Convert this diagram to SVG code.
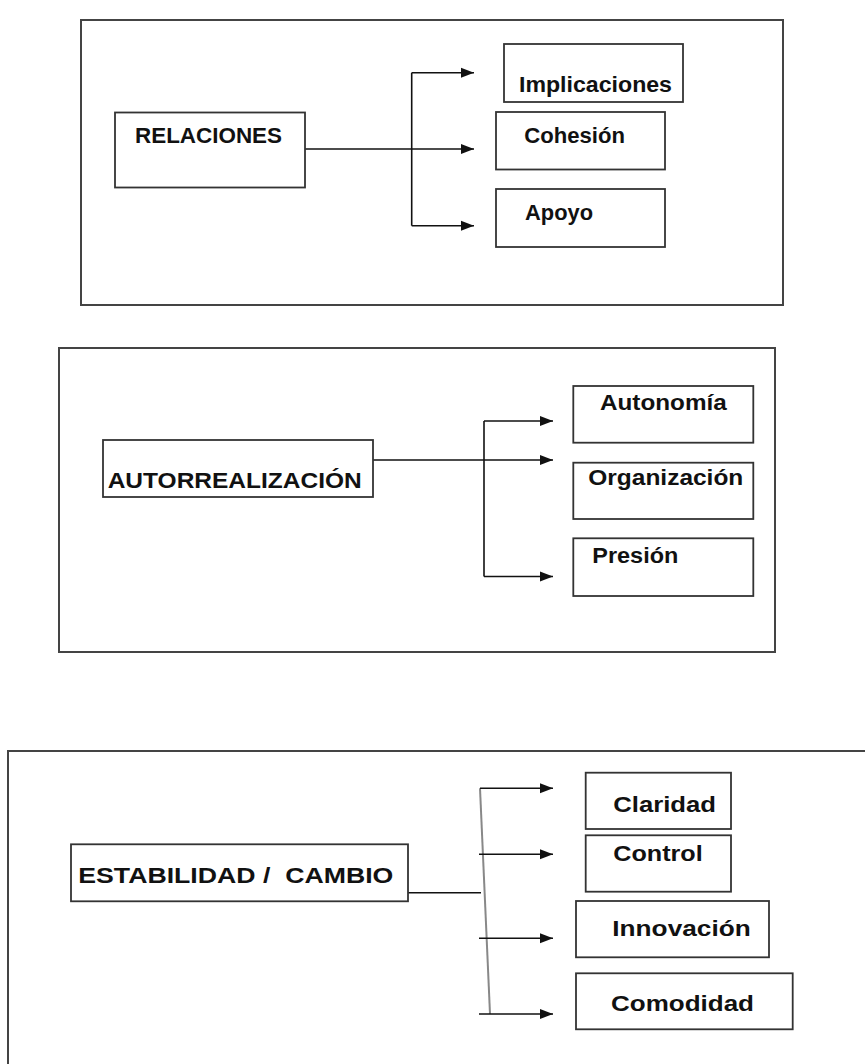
<svg xmlns="http://www.w3.org/2000/svg" width="865" height="1064" viewBox="0 0 865 1064">
<style>
.panel{fill:none;stroke:#444;stroke-width:2}
.box{fill:#fff;stroke:#333;stroke-width:1.8}
.lbl{font-family:"Liberation Sans",Arial,sans-serif;font-weight:bold;font-size:22px;fill:#111}
.con{fill:none;stroke:#111;stroke-width:1.6}
.arr{marker-end:url(#ah)}
.slant{fill:none;stroke:#888;stroke-width:2}
</style>
<defs>
<marker id="ah" viewBox="0 0 13 11" refX="13" refY="5.5" markerWidth="13" markerHeight="11" markerUnits="userSpaceOnUse" orient="auto">
<path d="M0,0.5 L13,5.5 L0,10.5 z" fill="#111"/>
</marker>
</defs>
<rect fill="#fff" x="0" y="0" width="865" height="1064"/>

<g id="panel1">
<rect class="panel" x="81" y="20" width="702" height="285"/>
</g>
<g id="panel2">
<rect class="panel" x="59" y="348" width="716" height="304"/>
</g>
<g id="panel3">
<rect class="panel" x="8" y="751" width="880" height="340"/>
</g>

<g id="connectors">
<path class="con arr" d="M305,149 H474"/>
<path class="con" d="M411.7,72.7 V225.7"/>
<path class="con arr" d="M411.7,72.7 H474"/>
<path class="con arr" d="M411.7,225.7 H474"/>

<path class="con arr" d="M373,460 H553"/>
<path class="con" d="M484,421 V576.5"/>
<path class="con arr" d="M484,421 H553"/>
<path class="con arr" d="M484,576.5 H553"/>

<path class="con" d="M408,892.7 H481"/>
<path class="slant" d="M480,788.3 L490,1014"/>
<path class="con arr" d="M480,788.3 H553"/>
<path class="con arr" d="M479,854.3 H553"/>
<path class="con arr" d="M479,938.3 H553"/>
<path class="con arr" d="M479,1014 H553"/>
</g>

<g id="relaciones">
<rect class="box" x="115" y="112.5" width="190" height="75"/>
<text class="lbl" x="135" y="143.3" textLength="147" lengthAdjust="spacingAndGlyphs">RELACIONES</text>
</g>
<g id="implicaciones">
<rect class="box" x="504" y="44" width="179" height="58"/>
<text class="lbl" x="519" y="91.5" textLength="153" lengthAdjust="spacingAndGlyphs">Implicaciones</text>
</g>
<g id="cohesion">
<rect class="box" x="496" y="112" width="169" height="57.5"/>
<text class="lbl" x="524.3" y="143.3" textLength="100.7" lengthAdjust="spacingAndGlyphs">Cohesión</text>
</g>
<g id="apoyo">
<rect class="box" x="496" y="189" width="169" height="58"/>
<text class="lbl" x="525" y="220" textLength="68" lengthAdjust="spacingAndGlyphs">Apoyo</text>
</g>

<g id="autorrealizacion">
<rect class="box" x="103" y="440" width="270" height="57"/>
<text class="lbl" x="107.7" y="488.3" textLength="254" lengthAdjust="spacingAndGlyphs">AUTORREALIZACIÓN</text>
</g>
<g id="autonomia">
<rect class="box" x="573.3" y="386" width="180" height="56.7"/>
<text class="lbl" x="600" y="410" textLength="126.7" lengthAdjust="spacingAndGlyphs">Autonomía</text>
</g>
<g id="organizacion">
<rect class="box" x="573.3" y="462.7" width="180" height="56.3"/>
<text class="lbl" x="588.3" y="485" textLength="155" lengthAdjust="spacingAndGlyphs">Organización</text>
</g>
<g id="presion">
<rect class="box" x="573.3" y="538.3" width="180" height="57.7"/>
<text class="lbl" x="592.3" y="562.7" textLength="86" lengthAdjust="spacingAndGlyphs">Presión</text>
</g>

<g id="estabilidad">
<rect class="box" x="71" y="844.3" width="337" height="57"/>
<text class="lbl" x="78.3" y="883.3" textLength="315" lengthAdjust="spacingAndGlyphs" xml:space="preserve" style="white-space:pre">ESTABILIDAD /  CAMBIO</text>
</g>
<g id="claridad">
<rect class="box" x="585.7" y="772.7" width="145.3" height="56.3"/>
<text class="lbl" x="613.3" y="811.7" textLength="102.7" lengthAdjust="spacingAndGlyphs">Claridad</text>
</g>
<g id="control">
<rect class="box" x="585.7" y="835.3" width="145.3" height="56.4"/>
<text class="lbl" x="613.3" y="861" textLength="89.4" lengthAdjust="spacingAndGlyphs">Control</text>
</g>
<g id="innovacion">
<rect class="box" x="576" y="901" width="193" height="56.3"/>
<text class="lbl" x="612.3" y="936" textLength="138.4" lengthAdjust="spacingAndGlyphs">Innovación</text>
</g>
<g id="comodidad">
<rect class="box" x="576" y="973.3" width="216.7" height="56"/>
<text class="lbl" x="611" y="1010.7" textLength="143" lengthAdjust="spacingAndGlyphs">Comodidad</text>
</g>
</svg>
